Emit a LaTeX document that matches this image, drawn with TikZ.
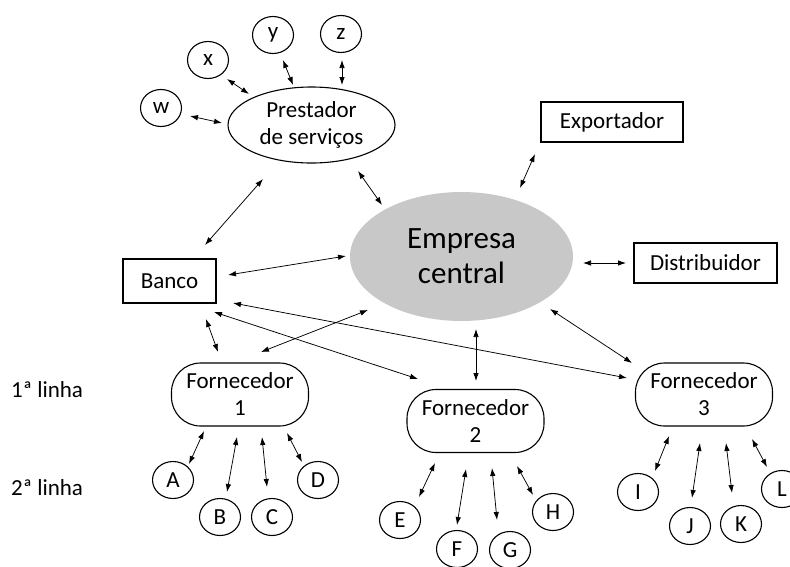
\documentclass[tikz,border=0pt]{standalone}
\usepackage{fontspec}
\setmainfont{Carlito}
\usetikzlibrary{arrows.meta,shapes.geometric}
\definecolor{hubgray}{RGB}{200,200,200}
\begin{document}
\begin{tikzpicture}[x=1pt,y=-1pt,
  every node/.style={font=\fontsize{23}{27}\selectfont, inner sep=0pt, align=center},
  leaf/.style={ellipse, draw, line width=1.1pt, minimum width=41pt, minimum height=37pt},
  plainbox/.style={rectangle, draw, line width=1.1pt},
  supplier/.style={rectangle, draw, line width=1.1pt, rounded corners=29pt,
    minimum width=137pt, minimum height=63pt},
  link/.style={line width=0.75pt, {Latex[length=8pt,width=5.5pt]}-{Latex[length=8pt,width=5.5pt]}}
]
\useasboundingbox (0,0) rectangle (790,566);
\clip (0,0) rectangle (790,566);

% central company and the nodes around it
\node[ellipse, fill=hubgray, minimum width=223pt, minimum height=129pt,
      font=\fontsize{31}{35}\selectfont] (hub) at (461.5,256.5) {Empresa\\central};
\node[ellipse, draw, line width=1.1pt, minimum width=167pt, minimum height=76pt] (svc) at (311.5,125) {Prestador\\de serviços};
\node[plainbox, minimum width=142pt, minimum height=40pt] (exp) at (612,122) {Exportador};
\node[plainbox, minimum width=143pt, minimum height=40pt] (dist) at (705.5,263) {Distribuidor};
\node[plainbox, minimum width=93pt, minimum height=44pt] (bank) at (169.5,281) {Banco};

% service provider partners
\node[leaf] (w) at (161,108) {w};
\node[leaf] (x) at (208,60) {x};
\node[leaf] (y) at (273,35) {y};
\node[leaf] (z) at (341,34) {z};

% first tier suppliers
\node[supplier] (f1) at (240,394.5) {Fornecedor\\1};
\node[supplier] (f2) at (475.5,421) {Fornecedor\\2};
\node[supplier] (f3) at (704,394.5) {Fornecedor\\3};

% second tier suppliers
\node[leaf] (A) at (173,480) {A};
\node[leaf] (B) at (220,517) {B};
\node[leaf] (C) at (272,517) {C};
\node[leaf] (D) at (318,480) {D};
\node[leaf] (E) at (400,520) {E};
\node[leaf] (F) at (457,549) {F};
\node[leaf] (G) at (510,550) {G};
\node[leaf] (H) at (553,512) {H};
\node[leaf] (I) at (638,492) {I};
\node[leaf] (J) at (690,526) {J};
\node[leaf] (K) at (741,524) {K};
\node[leaf] (L) at (782,489) {L};

% tier labels
\node[anchor=west] (tier1) at (11,390) {1ª linha};
\node[anchor=west] (tier2) at (11,488) {2ª linha};

% links around the service provider
\draw[link] ([shift={(29,8)}]w.center) -- ([shift={(-89.5,-2)}]svc.center);
\draw[link] ([shift={(19,19)}]x.center) -- ([shift={(-62.5,-31)}]svc.center);
\draw[link] ([shift={(10,25)}]y.center) -- ([shift={(-18.5,-40)}]svc.center);
\draw[link] ([shift={(1,26)}]z.center) -- ([shift={(30.5,-40)}]svc.center);
\draw[link] ([shift={(46.5,46)}]svc.center) -- ([shift={(-79.5,-51.5)}]hub.center);
\draw[link] ([shift={(-48.5,54)}]svc.center) -- ([shift={(35.5,-36)}]bank.center);

% links of the central company
\draw[link] ([shift={(-77,32)}]exp.center) -- ([shift={(58.5,-68.5)}]hub.center);
\draw[link] ([shift={(-79.5,0)}]dist.center) -- ([shift={(121.5,6.5)}]hub.center);
\draw[link] ([shift={(58.5,-6)}]bank.center) -- ([shift={(-115.5,-0.5)}]hub.center);
\draw[link] ([shift={(21,-42.5)}]f1.center) -- ([shift={(-93.5,53.5)}]hub.center);
\draw[link] ([shift={(14.5,72.5)}]hub.center) -- ([shift={(0.5,-40)}]f2.center);
\draw[link] ([shift={(88.5,52.5)}]hub.center) -- ([shift={(-72,-31.5)}]f3.center);

% links of the bank
\draw[link] ([shift={(63.5,22)}]bank.center) -- ([shift={(-77,-16.5)}]f3.center);
\draw[link] ([shift={(44.5,31)}]bank.center) -- ([shift={(-57.5,-42)}]f2.center);
\draw[link] ([shift={(36.5,38)}]bank.center) -- ([shift={(-22,-42.5)}]f1.center);

% supplier 1 branches
\draw[link] ([shift={(-36,36.5)}]f1.center) -- ([shift={(16,-16)}]A.center);
\draw[link] ([shift={(-3,42.5)}]f1.center) -- ([shift={(7,-25)}]B.center);
\draw[link] ([shift={(22,42.5)}]f1.center) -- ([shift={(-5,-30)}]C.center);
\draw[link] ([shift={(47,38.5)}]f1.center) -- ([shift={(-16,-18)}]D.center);

% supplier 2 branches
\draw[link] ([shift={(-40.5,42)}]f2.center) -- ([shift={(19,-23)}]E.center);
\draw[link] ([shift={(-9.5,48)}]f2.center) -- ([shift={(0,-24)}]F.center);
\draw[link] ([shift={(16.5,47)}]f2.center) -- ([shift={(-13,-30)}]G.center);
\draw[link] ([shift={(41.5,45)}]f2.center) -- ([shift={(-20,-17)}]H.center);

% supplier 3 branches
\draw[link] ([shift={(-35,41.5)}]f3.center) -- ([shift={(17,-21)}]I.center);
\draw[link] ([shift={(-4,48.5)}]f3.center) -- ([shift={(2,-28)}]J.center);
\draw[link] ([shift={(22,48.5)}]f3.center) -- ([shift={(-9,-31)}]K.center);
\draw[link] ([shift={(48,44.5)}]f3.center) -- ([shift={(-15,-22)}]L.center);
\end{tikzpicture}
\end{document}
